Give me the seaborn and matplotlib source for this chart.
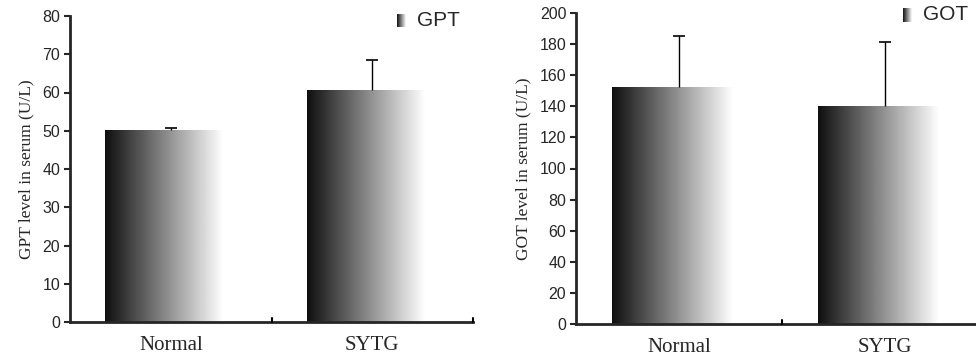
import numpy as np
import pandas as pd
import seaborn as sns
import matplotlib
matplotlib.use("agg")
import matplotlib.pyplot as plt

groups = ["Normal", "SYTG"]
gpt_mean = [50.2, 60.6]
gpt_err = [0.6, 7.8]
got_mean = [152.2, 140.0]
got_err = [33.0, 41.5]

sns.set_style("white")
plt.rcParams["font.family"] = ["Liberation Sans", "DejaVu Sans"]

fig = plt.figure(figsize=(9.76, 3.61), dpi=100)
W, H = 976.0, 361.0

# black -> white horizontal ramp, white over the last part
ramp = np.clip(np.linspace(0.06, 1.1, 256), 0, 1)
grad = np.tile(ramp, (2, 1))


def fill_gradient(ax, patch):
    x0, y0 = patch.get_x(), patch.get_y()
    w, h = patch.get_width(), patch.get_height()
    im = ax.imshow(grad, cmap="gray", vmin=0, vmax=1, aspect="auto",
                   extent=[x0, x0 + w, y0, y0 + h], interpolation="bilinear",
                   zorder=2)
    im.set_clip_path(patch)
    patch.set_facecolor("none")
    patch.set_edgecolor("none")


def panel(rect, means, errs, ymax, ystep, ylabel, leg_name, leg_rect, leg_txt):
    ax = fig.add_axes(rect)
    df = pd.DataFrame({"group": groups, "value": means})
    sns.barplot(data=df, x="group", y="value", ax=ax, width=0.65,
                color="black", errorbar=None)
    for p in ax.patches:
        fill_gradient(ax, p)
    # upper-only error bars with a single cap
    xs = np.arange(len(groups))
    tops = np.array(means) + np.array(errs)
    ax.vlines(xs, means, tops, color="black", lw=1, zorder=3)
    ax.hlines(tops, xs - 0.03, xs + 0.03, color="black", lw=1.2, zorder=3)
    ax.set_xlim(-0.5, 1.5)
    ax.set_ylim(0, ymax)
    ax.set_yticks(np.arange(0, ymax + 1, ystep))
    ax.set_xticks([])
    ax.set_xlabel("")
    for i, g in enumerate(groups):
        ax.text(i, -0.045, g, transform=ax.get_xaxis_transform(), ha="center",
                va="top", fontsize=15, family="Liberation Serif")
    # small boundary ticks on the x axis
    for xb in [0.5, 1.5]:
        ax.plot([xb, xb], [0, ymax * 0.012], color="black", lw=1.5,
                clip_on=False, zorder=4)
    ax.set_ylabel(ylabel, family="Liberation Serif", fontsize=12.5, labelpad=6)
    sns.despine(ax=ax)
    ax.spines["left"].set_linewidth(2)
    ax.spines["bottom"].set_linewidth(2)
    ax.tick_params(axis="y", direction="out", length=4, width=1.5,
                   labelsize=11.5, left=True, pad=3)
    # legend: gradient swatch plus label
    lax = fig.add_axes(leg_rect)
    lax.imshow(grad, cmap="gray", vmin=0, vmax=1, aspect="auto",
               interpolation="bilinear")
    lax.axis("off")
    fig.text(leg_txt[0], leg_txt[1], leg_name, fontsize=15, va="center",
             ha="left")
    return ax


panel([70 / W, 1 - 322 / H, 403 / W, 306 / H], gpt_mean, gpt_err, 80, 10,
      "GPT level in serum (U/L)", "GPT",
      [397 / W, 1 - 27 / H, 10 / W, 13 / H], (417 / W, 1 - 21 / H))
panel([576 / W, 1 - 324 / H, 412 / W, 311 / H], got_mean, got_err, 200, 20,
      "GOT level in serum (U/L)", "GOT",
      [903 / W, 1 - 22 / H, 10 / W, 14 / H], (923 / W, 1 - 15 / H))

fig.savefig("out.png", dpi=100)
